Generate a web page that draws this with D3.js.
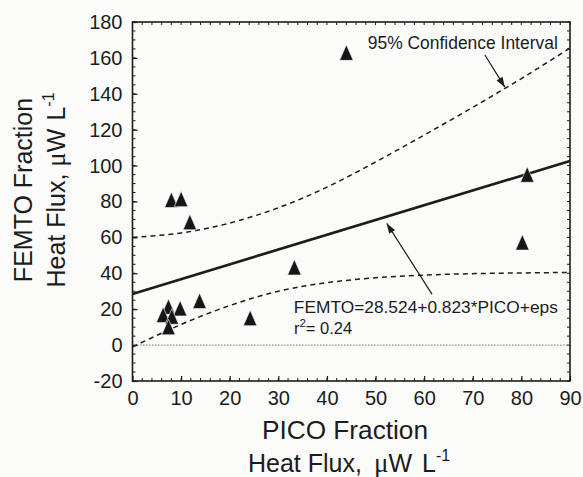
<!DOCTYPE html>
<html>
<head>
<meta charset="utf-8">
<script src="https://cdn.jsdelivr.net/npm/d3@7"></script>
<style>
  html, body { margin: 0; padding: 0; background: #fbfbfa; }
  svg { display: block; }
  text { font-family: "Liberation Sans", Arial, Helvetica, sans-serif; fill: #1c1c1c; }
</style>
</head>
<body>
<svg id="chart" width="583" height="477"></svg>
<script>
// ---- data ----
const picoX = [44, 81.2, 80.2, 33.3, 8.0, 10.0, 11.8, 13.8, 24.2, 7.4, 9.8, 6.3, 8.1, 7.4];
const femtoY = [162.8, 94.9, 57.1, 43.2, 80.8, 81.3, 68.4, 24.5, 15.0, 21.3, 20.4, 16.7, 15.8, 9.9];

const ciX = [0, 10, 20, 30, 40, 50, 60, 70, 80, 90];
const ciUpper = [60, 62.5, 68, 76.5, 88, 102, 117, 132.5, 148.5, 165.5];
const ciLower = [-1, 11.5, 22, 30, 34.8, 37.5, 39, 39.8, 40.2, 40.5];

const intercept = 28.524;
const slope = 0.823;
const rSquared = 0.24;

const xTicks = [0, 10, 20, 30, 40, 50, 60, 70, 80, 90];
const yTicks = [-20, 0, 20, 40, 60, 80, 100, 120, 140, 160, 180];

// ---- layout ----
const svg = d3.select("#chart");
const L = 132.5, R = 570, T = 22, B = 381;
const ink = "#1c1c1c";

const x = d3.scaleLinear().domain([0, 90]).range([L, R]);
const y = d3.scaleLinear().domain([-20, 180]).range([B, T]);

// minor ticks on all four sides
const xMinor = d3.range(0, 90.01, 2);
const yMinor = d3.range(-20, 180.01, 5);
const minor = svg.append("g").attr("stroke", ink).attr("stroke-width", 1);
xMinor.forEach(v => {
  minor.append("line").attr("x1", x(v)).attr("x2", x(v)).attr("y1", B).attr("y2", B - 3);
  minor.append("line").attr("x1", x(v)).attr("x2", x(v)).attr("y1", T).attr("y2", T + 3);
});
yMinor.forEach(v => {
  minor.append("line").attr("y1", y(v)).attr("y2", y(v)).attr("x1", L).attr("x2", L + 3);
  minor.append("line").attr("y1", y(v)).attr("y2", y(v)).attr("x1", R).attr("x2", R - 3);
});

// axes
const fmt = d => String(d);
const xAxis = svg.append("g").attr("transform", `translate(0,${B})`)
  .call(d3.axisBottom(x).tickValues(xTicks).tickFormat(fmt).tickSizeInner(-5).tickSizeOuter(0).tickPadding(10));
const yAxis = svg.append("g").attr("transform", `translate(${L},0)`)
  .call(d3.axisLeft(y).tickValues(yTicks).tickFormat(fmt).tickSizeInner(-5).tickSizeOuter(0).tickPadding(10));
[xAxis, yAxis].forEach(g => {
  g.select(".domain").remove();
  g.selectAll(".tick line").attr("stroke", ink).attr("stroke-width", 1.2);
  g.selectAll(".tick text").attr("font-size", 20).attr("fill", ink)
    .attr("font-family", "Liberation Sans, Arial, sans-serif");
});

// frame
svg.append("rect").attr("x", L).attr("y", T).attr("width", R - L).attr("height", B - T)
  .attr("fill", "none").attr("stroke", ink).attr("stroke-width", 1.6);

// zero reference line (dotted)
svg.append("line").attr("x1", x(1)).attr("x2", x(90)).attr("y1", y(0)).attr("y2", y(0))
  .attr("stroke", "#333").attr("stroke-width", 1).attr("stroke-dasharray", "1,2");

// confidence interval curves
const ciLine = d3.line().x(d => x(d[0])).y(d => y(d[1])).curve(d3.curveNatural);
[ciUpper, ciLower].forEach(arr => {
  svg.append("path").datum(ciX.map((v, i) => [v, arr[i]]))
    .attr("d", ciLine).attr("fill", "none").attr("stroke", ink)
    .attr("stroke-width", 1.5).attr("stroke-dasharray", "5,4");
});

// regression line
svg.append("line")
  .attr("x1", x(0)).attr("y1", y(intercept))
  .attr("x2", x(90)).attr("y2", y(intercept + slope * 90))
  .attr("stroke", ink).attr("stroke-width", 2.6);

// data triangles
const tri = "M0,-8L6.8,7.5L-6.8,7.5Z";
svg.append("g").selectAll("path").data(picoX.map((v, i) => [v, femtoY[i]]))
  .join("path")
  .attr("d", tri)
  .attr("transform", d => `translate(${x(d[0])},${y(d[1])})`)
  .attr("fill", "#161616").attr("stroke", "#fbfbfa").attr("stroke-width", 0.6);

// arrows (annotation positions in data units)
const arrows = [
  { from: [72.5, 161.6], to: [76.6, 143.7] },
  { from: [61.6, 28.4], to: [52.3, 67.8] }
];
arrows.forEach(a => {
  const x1 = x(a.from[0]), y1 = y(a.from[1]), x2 = x(a.to[0]), y2 = y(a.to[1]);
  svg.append("line").attr("x1", x1).attr("y1", y1).attr("x2", x2).attr("y2", y2)
    .attr("stroke", ink).attr("stroke-width", 1.2);
  const ang = Math.atan2(y2 - y1, x2 - x1);
  const hl = 10, hw = 3.5;
  const bx = x2 - hl * Math.cos(ang), by = y2 - hl * Math.sin(ang);
  const px = -Math.sin(ang) * hw, py = Math.cos(ang) * hw;
  svg.append("path")
    .attr("d", `M${x2},${y2}L${bx + px},${by + py}L${bx - px},${by - py}Z`)
    .attr("fill", ink);
});

// annotation text
svg.append("text").attr("x", x(48.4)).attr("y", y(164.9))
  .attr("font-size", 17.5).attr("textLength", 190).attr("lengthAdjust", "spacingAndGlyphs")
  .text("95% Confidence Interval");

svg.append("text").attr("x", x(33.2)).attr("y", y(18.0))
  .attr("font-size", 16.5).attr("textLength", 264).attr("lengthAdjust", "spacingAndGlyphs")
  .text(`FEMTO=${intercept}+${slope}*PICO+eps`);
const rt = svg.append("text").attr("x", x(33.2)).attr("y", y(6.1)).attr("font-size", 16.5);
rt.append("tspan").text("r");
rt.append("tspan").attr("dy", -7).attr("font-size", 11.5).text("2");
rt.append("tspan").attr("dy", 7).text(`= ${rSquared}`);

// axis titles
svg.append("text").attr("x", 262).attr("y", 439)
  .attr("font-size", 25).attr("textLength", 166).attr("lengthAdjust", "spacingAndGlyphs")
  .text("PICO Fraction");
const xl = svg.append("text").attr("x", 248).attr("y", 472).attr("font-size", 25);
xl.append("tspan").text("Heat Flux,");
xl.append("tspan").attr("dx", 12).attr("font-family", "Liberation Serif, Times New Roman, serif")
  .attr("font-size", 27).text("\u03bc");
xl.append("tspan").text("W");
xl.append("tspan").attr("dx", 10).text("L");
xl.append("tspan").attr("dy", -11).attr("font-size", 16).text("-1");

const yl = svg.append("g").attr("transform", "translate(0,190) rotate(-90)");
yl.append("text").attr("x", 0).attr("y", 32).attr("text-anchor", "middle")
  .attr("font-size", 25).text("FEMTO Fraction");
const yl2 = yl.append("text").attr("x", 0).attr("y", 65).attr("text-anchor", "middle")
  .attr("font-size", 25);
yl2.append("tspan").text("Heat Flux,");
yl2.append("tspan").attr("dx", 7).attr("font-family", "Liberation Serif, Times New Roman, serif")
  .attr("font-size", 27).text("\u03bc");
yl2.append("tspan").text("W");
yl2.append("tspan").attr("dx", 8).text("L");
yl2.append("tspan").attr("dy", -11).attr("font-size", 16).text("-1");
</script>
</body>
</html>
